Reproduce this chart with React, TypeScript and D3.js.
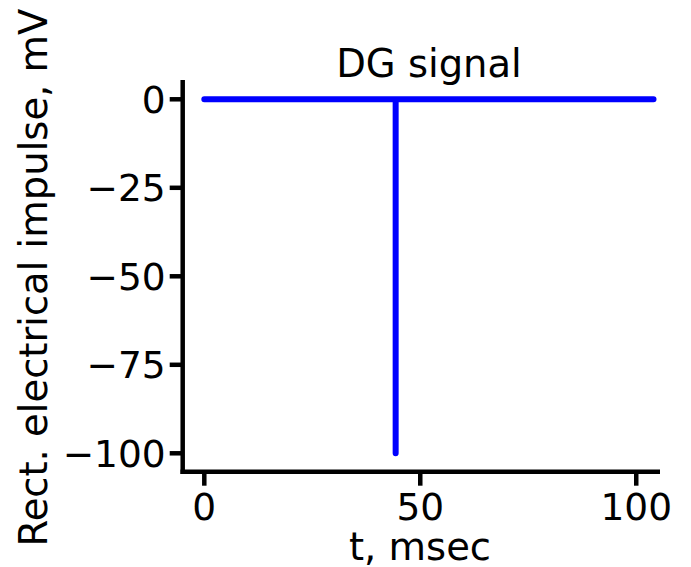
import React from "react";
import * as d3 from "d3";

// DG signal trace: flat at 0 mV with a single rectangular impulse
const timeMs = [0, 44.3, 44.3, 44.3, 104];
const voltageMv = [0, 0, -100, 0, 0];
const xTicks = [0, 50, 100];
const yTicks = [0, -25, -50, -75, -100];
const titleText = "DG signal";
const xLabel = "t, msec";
const yLabel = "Rect. electrical impulse, mV";

const W = 691;
const H = 567;
const left = 182.7;
const right = 660;
const top = 80;
const bottom = 471.7;

export default function App() {
  const x = d3.scaleLinear().domain([-5, 105.5]).range([left, right]);
  const y = d3.scaleLinear().domain([-105.2, 5.45]).range([bottom, top]);
  const pts = timeMs.map((t, i) => [t, voltageMv[i]] as [number, number]);
  const line = d3
    .line<[number, number]>()
    .x((d) => x(d[0]))
    .y((d) => y(d[1]));
  const font = "DejaVu Sans, sans-serif";
  const tickSize = 37.5;
  const labelSize = 38.5;
  const fmt = (v: number) => (v < 0 ? "\u2212" + Math.abs(v) : String(v));
  return (
    <svg
      width={W}
      height={H}
      style={{ position: "absolute", left: 0, top: 0, background: "#fff" }}
    >
      <path
        d={line(pts) || ""}
        fill="none"
        stroke="#0000ff"
        strokeWidth={6}
        strokeLinejoin="round"
        strokeLinecap="round"
      />
      {/* spines */}
      <line x1={left} x2={left} y1={top} y2={bottom + 2.2} stroke="#000" strokeWidth={4.5} />
      <line x1={left - 2.2} x2={right} y1={bottom} y2={bottom} stroke="#000" strokeWidth={4.5} />
      {/* x ticks */}
      {xTicks.map((t) => (
        <g key={"x" + t}>
          <line x1={x(t)} x2={x(t)} y1={bottom} y2={bottom + 14} stroke="#000" strokeWidth={4.5} />
          <text x={x(t)} y={520} textAnchor="middle" fontFamily={font} fontSize={tickSize} fill="#000">
            {fmt(t)}
          </text>
        </g>
      ))}
      {/* y ticks */}
      {yTicks.map((t) => (
        <g key={"y" + t}>
          <line x1={left - 13} x2={left} y1={y(t)} y2={y(t)} stroke="#000" strokeWidth={4.5} />
          <text
            x={left - 17}
            y={y(t)}
            dy="0.36em"
            textAnchor="end"
            fontFamily={font}
            fontSize={tickSize}
            fill="#000"
          >
            {fmt(t)}
          </text>
        </g>
      ))}
      <text x={429} y={76.5} textAnchor="middle" fontFamily={font} fontSize={labelSize} fill="#000">
        {titleText}
      </text>
      <text x={420} y={560} textAnchor="middle" fontFamily={font} fontSize={labelSize} fill="#000">
        {xLabel}
      </text>
      <text
        transform={`translate(47,277.5) rotate(-90)`}
        textAnchor="middle"
        fontFamily={font}
        fontSize={labelSize}
        fill="#000"
      >
        {yLabel}
      </text>
    </svg>
  );
}
